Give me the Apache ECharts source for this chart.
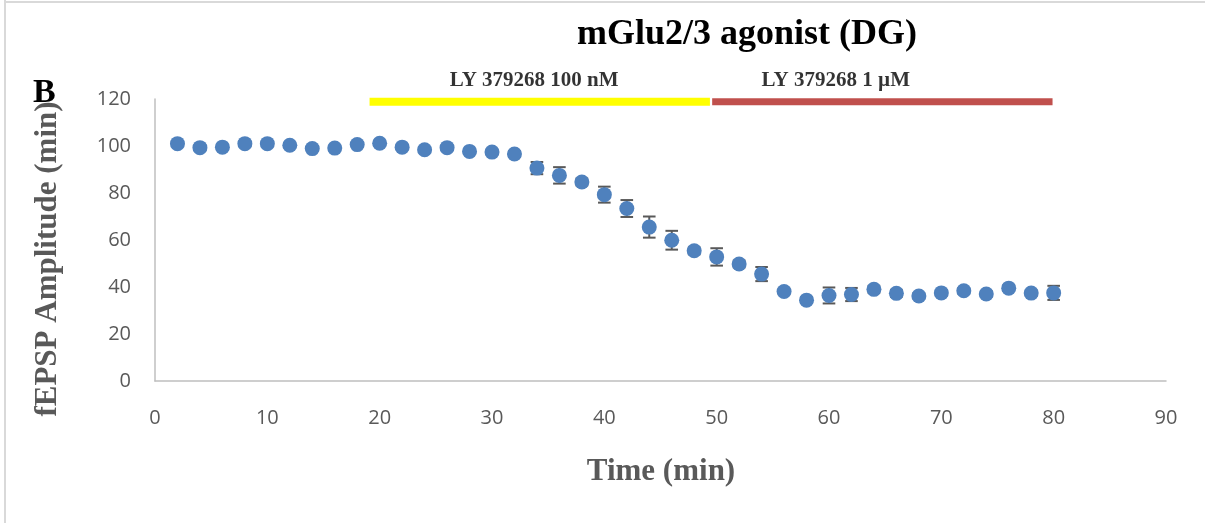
<!DOCTYPE html>
<html>
<head>
<meta charset="utf-8">
<script src="https://cdn.jsdelivr.net/npm/echarts@6/dist/echarts.min.js"></script>
<style>
  html, body { margin: 0; padding: 0; background: #ffffff; }
  #chart { width: 1205px; height: 523px; }
</style>
</head>
<body>
<div id="chart"></div>
<script>
// Recording time points (min)
const times = [2, 4, 6, 8, 10, 12, 14, 16, 18, 20,
               22, 24, 26, 28, 30, 32, 34, 36, 38, 40,
               42, 44, 46, 48, 50, 52, 54, 56, 58, 60,
               62, 64, 66, 68, 70, 72, 74, 76, 78, 80];

// Mean fEPSP amplitude (% of baseline)
const amplitude = [101.0, 99.3, 99.5, 101.0, 101.0, 100.3, 98.9, 99.1, 100.6, 101.2,
                   99.5, 98.4, 99.3, 97.7, 97.4, 96.6, 90.6, 87.5, 84.7, 79.3,
                   73.4, 65.5, 59.9, 55.4, 52.8, 49.8, 45.5, 38.1, 34.4, 36.4,
                   36.8, 39.0, 37.3, 36.2, 37.5, 38.4, 37.0, 39.5, 37.4, 37.5];

// Standard error of the mean
const sem = [1.0, 1.0, 1.0, 1.0, 1.0, 1.0, 1.0, 1.0, 1.0, 1.0,
             1.0, 1.0, 1.0, 1.0, 1.0, 1.2, 2.6, 3.5, 1.5, 3.4,
             3.6, 4.5, 4.0, 1.5, 3.7, 1.5, 3.0, 1.2, 1.2, 3.4,
             2.8, 1.5, 1.5, 1.2, 1.2, 1.2, 1.2, 1.2, 1.2, 3.0];

// Drug application periods (min)
const drugNames = ['LY 379268 100 nM', 'LY 379268 1 \u00b5M'];
const drugStart = [19.1, 49.6];
const drugEnd = [49.4, 79.9];

// Axis ticks
const xTicks = [0, 10, 20, 30, 40, 50, 60, 70, 80, 90];
const yTicks = [0, 20, 40, 60, 80, 100, 120];

const chart = echarts.init(document.getElementById('chart'), null, { renderer: 'canvas' });

const points = times.map((t, i) => [t, amplitude[i]]);
const bars = times.map((t, i) => [t, amplitude[i] - sem[i], amplitude[i] + sem[i]]);

const serif = '"Liberation Serif", "Times New Roman", serif';
const barLevel = 118.8;
const labelLevel = 128;
const labelCenters = [33.75, 60.6];
const drugColors = ['#ffff00', '#c0504d'];
const drugWidths = [8, 7];

const drugSeries = drugNames.map((name, i) => ({
  type: 'line',
  name: name,
  data: [[drugStart[i], barLevel], [drugEnd[i], barLevel]],
  showSymbol: false,
  symbol: 'none',
  clip: false,
  silent: true,
  z: 3,
  lineStyle: { color: drugColors[i], width: drugWidths[i], cap: 'butt' }
}));

const option = {
  backgroundColor: '#ffffff',
  animation: false,
  grid: { left: 155, right: 39, top: 99, bottom: 142, containLabel: false },
  xAxis: {
    type: 'value',
    min: xTicks[0],
    max: xTicks[xTicks.length - 1],
    interval: xTicks[1] - xTicks[0],
    axisLine: { show: true, lineStyle: { color: '#bfbfbf', width: 1.5 } },
    axisTick: { show: false },
    splitLine: { show: false },
    axisLabel: { color: '#595959', fontFamily: '"Open Sans", sans-serif', fontSize: 20, margin: 27 }
  },
  yAxis: {
    type: 'value',
    min: yTicks[0],
    max: yTicks[yTicks.length - 1],
    interval: yTicks[1] - yTicks[0],
    axisLine: { show: true, lineStyle: { color: '#bfbfbf', width: 1.5 } },
    axisTick: { show: false },
    splitLine: { show: false },
    axisLabel: { color: '#595959', fontFamily: '"Open Sans", sans-serif', fontSize: 20, margin: 24 }
  },
  graphic: [
    { type: 'line', shape: { x1: 5, y1: 0, x2: 5, y2: 523 }, style: { stroke: '#d9d9d9', lineWidth: 2 }, silent: true },
    { type: 'line', shape: { x1: 5, y1: 2, x2: 1205, y2: 2 }, style: { stroke: '#d9d9d9', lineWidth: 2 }, silent: true },
    {
      type: 'text', x: 747, y: 35,
      style: { text: 'mGlu2/3 agonist (DG)', font: 'bold 36px ' + serif, fill: '#000000', align: 'center', verticalAlign: 'middle' }
    },
    {
      type: 'text', x: 33, y: 93,
      style: { text: 'B', font: 'bold 34px ' + serif, fill: '#000000', align: 'left', verticalAlign: 'middle' }
    },
    {
      type: 'text', x: 661, y: 472,
      style: { text: 'Time (min)', font: 'bold 31px ' + serif, fill: '#595959', align: 'center', verticalAlign: 'middle' }
    },
    {
      type: 'text', x: 48, y: 259, rotation: Math.PI / 2,
      style: { text: 'fEPSP Amplitude (min)', font: 'bold 31px ' + serif, fill: '#595959', align: 'center', verticalAlign: 'middle' }
    }
  ],
  series: [
    {
      type: 'custom',
      name: 'SEM',
      data: bars,
      z: 2,
      silent: true,
      renderItem: function (params, api) {
        const x = api.value(0);
        const lo = api.coord([x, api.value(1)]);
        const hi = api.coord([x, api.value(2)]);
        const half = 6.3;
        const style = { stroke: '#595959', lineWidth: 2 };
        return {
          type: 'group',
          children: [
            { type: 'line', shape: { x1: lo[0], y1: lo[1], x2: hi[0], y2: hi[1] }, style: style },
            { type: 'line', shape: { x1: lo[0] - half, y1: lo[1], x2: lo[0] + half, y2: lo[1] }, style: style },
            { type: 'line', shape: { x1: hi[0] - half, y1: hi[1], x2: hi[0] + half, y2: hi[1] }, style: style }
          ]
        };
      }
    },
    {
      type: 'scatter',
      name: 'fEPSP',
      data: points,
      symbol: 'circle',
      symbolSize: 15,
      z: 5,
      itemStyle: { color: '#4f81bd', opacity: 1 }
    },
    ...drugSeries,
    {
      type: 'scatter',
      name: 'drug labels',
      data: drugNames.map((name, i) => ({ value: [labelCenters[i], labelLevel], name: name })),
      symbolSize: 0,
      clip: false,
      silent: true,
      z: 4,
      label: {
        show: true,
        position: 'inside',
        formatter: '{b}',
        color: '#000000',
        fontFamily: serif,
        fontWeight: 'bold',
        fontSize: 21
      }
    }
  ]
};

chart.setOption(option);
</script>
</body>
</html>
